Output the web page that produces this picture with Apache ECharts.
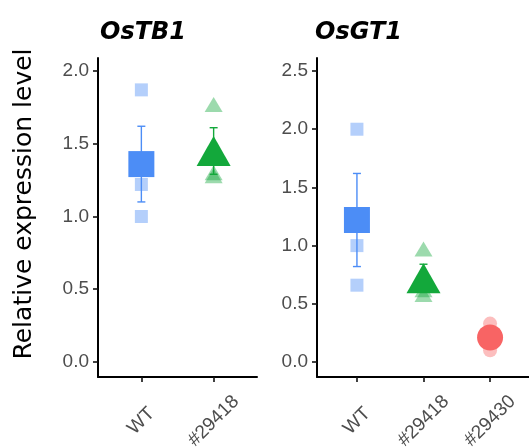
<!DOCTYPE html>
<html>
<head>
<meta charset="utf-8">
<script src="https://cdn.jsdelivr.net/npm/echarts@6/dist/echarts.min.js"></script>
<style>
  html, body { margin: 0; padding: 0; background: #fff; }
  #chart { width: 529px; height: 448px; }
</style>
</head>
<body>
<div id="chart"></div>
<script>
// panel 1: OsTB1
const tb1Groups = ['WT', '#29418'];
const tb1Points = [[1.87, 1.22, 1.00], [1.77, 1.30, 1.28]];
const tb1Mean = [1.36, 1.45];
const tb1Se = [0.26, 0.16];
const tb1Ticks = [0, 0.5, 1.0, 1.5, 2.0];

// panel 2: OsGT1
const gt1Groups = ['WT', '#29418', '#29430'];
const gt1Points = [[2.00, 1.00, 0.66], [0.97, 0.62, 0.58], [0.33, 0.21, 0.10]];
const gt1Mean = [1.22, 0.72, 0.21];
const gt1Se = [0.40, 0.12, 0.06];
const gt1Ticks = [0, 0.5, 1.0, 1.5, 2.0, 2.5];

const groupColors = ['#4C8DF6', '#13A83B', '#F86464'];
const groupSymbols = ['rect', 'triangle', 'circle'];
const meanSizes = [26, [34, 30], 26];
const pointSizes = [13, [18, 15], 14];

const FONT = 'Liberation Sans, Arial, sans-serif';
const WIDE = 'DejaVu Sans, sans-serif';

function pointData(points) {
    let out = [];
    points.forEach((vals, i) => {
        vals.forEach(v => {
            out.push({
                value: [i + 1, v],
                symbol: groupSymbols[i],
                symbolSize: pointSizes[i],
                itemStyle: { color: groupColors[i], opacity: 0.42 }
            });
        });
    });
    return out;
}

function meanData(means) {
    return means.map((m, i) => ({
        value: [i + 1, m],
        symbol: groupSymbols[i],
        symbolSize: meanSizes[i],
        itemStyle: { color: groupColors[i], opacity: 1 }
    }));
}

function errData(means, se) {
    return means.map((m, i) => [i + 1, m - se[i], m + se[i]]);
}

function renderErr(params, api) {
    const x = api.value(0);
    const top = api.coord([x, api.value(2)]);
    const bot = api.coord([x, api.value(1)]);
    const color = groupColors[params.dataIndex];
    const w = 4;
    const st = { stroke: color, lineWidth: 1.4 };
    return {
        type: 'group',
        children: [
            { type: 'line', shape: { x1: top[0], y1: top[1], x2: bot[0], y2: bot[1] }, style: st },
            { type: 'line', shape: { x1: top[0] - w, y1: top[1], x2: top[0] + w, y2: top[1] }, style: st },
            { type: 'line', shape: { x1: bot[0] - w, y1: bot[1], x2: bot[0] + w, y2: bot[1] }, style: st }
        ]
    };
}

function xAxisFor(idx, groups) {
    const vals = groups.map((g, i) => i + 1);
    return {
        type: 'value', gridIndex: idx,
        min: 0.4, max: groups.length + 0.6,
        splitLine: { show: false },
        axisLine: { show: true, onZero: false, lineStyle: { color: '#000', width: 2 } },
        axisTick: { show: true, length: 5, customValues: vals, lineStyle: { color: '#111', width: 1.6 } },
        axisLabel: {
            customValues: vals, rotate: 45, margin: 44,
            align: 'center', verticalAlign: 'middle',
            color: '#4d4d4d', fontSize: 19, fontFamily: FONT,
            formatter: v => groups[Math.round(v) - 1]
        }
    };
}

function yAxisFor(idx, min, max, ticks) {
    return {
        type: 'value', gridIndex: idx,
        min: min, max: max,
        splitLine: { show: false },
        axisLine: { show: true, onZero: false, lineStyle: { color: '#000', width: 2 } },
        axisTick: { show: true, length: 5, customValues: ticks, lineStyle: { color: '#111', width: 1.6 } },
        axisLabel: {
            customValues: ticks, margin: 9,
            color: '#4d4d4d', fontSize: 19, fontFamily: FONT,
            formatter: v => v.toFixed(1)
        }
    };
}

const chart = echarts.init(document.getElementById('chart'), null, { renderer: 'canvas' });

const titleStyle = { fontSize: 24, fontWeight: 'bold', fontStyle: 'italic', color: '#000', fontFamily: WIDE };

const option = {
    animation: false,
    backgroundColor: '#fff',
    title: [
        { text: 'OsTB1', left: 95, top: 16, textStyle: titleStyle },
        { text: 'OsGT1', left: 310, top: 16, textStyle: titleStyle }
    ],
    graphic: [
        {
            type: 'text', x: 24, y: 204, rotation: Math.PI / 2,
            style: {
                text: 'Relative expression level', fill: '#000',
                font: '25px ' + WIDE, align: 'center', verticalAlign: 'middle'
            }
        }
    ],
    grid: [
        { left: 98, top: 58, width: 159, height: 319, outerBoundsMode: 'none' },
        { left: 317, top: 58, width: 213, height: 319, outerBoundsMode: 'none' }
    ],
    xAxis: [xAxisFor(0, tb1Groups), xAxisFor(1, gt1Groups)],
    yAxis: [yAxisFor(0, -0.103, 2.089, tb1Ticks), yAxisFor(1, -0.129, 2.612, gt1Ticks)],
    series: [
        { type: 'scatter', xAxisIndex: 0, yAxisIndex: 0, data: pointData(tb1Points), z: 2 },
        { type: 'custom', xAxisIndex: 0, yAxisIndex: 0, data: errData(tb1Mean, tb1Se), renderItem: renderErr, z: 3 },
        { type: 'scatter', xAxisIndex: 0, yAxisIndex: 0, data: meanData(tb1Mean), z: 4 },
        { type: 'scatter', xAxisIndex: 1, yAxisIndex: 1, data: pointData(gt1Points), z: 2 },
        { type: 'custom', xAxisIndex: 1, yAxisIndex: 1, data: errData(gt1Mean, gt1Se), renderItem: renderErr, z: 3 },
        { type: 'scatter', xAxisIndex: 1, yAxisIndex: 1, data: meanData(gt1Mean), z: 4 }
    ]
};

chart.setOption(option);
</script>
</body>
</html>
